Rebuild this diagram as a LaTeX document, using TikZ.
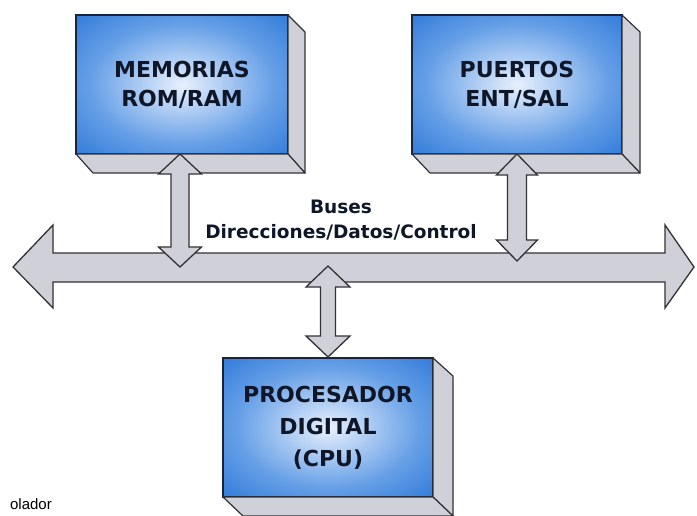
\documentclass[tikz,border=0pt]{standalone}
\usepackage{fontspec}
\setmainfont{DejaVu Sans}
\newfontfamily\capfont{Liberation Sans}
\usetikzlibrary{calc}
\definecolor{shA}{RGB}{232,240,252}
\definecolor{shB}{RGB}{190,214,246}
\definecolor{shC}{RGB}{100,158,230}
\definecolor{shD}{RGB}{42,118,216}
\definecolor{shE}{RGB}{22,88,196}
\definecolor{sidegray}{RGB}{208,209,216}
\definecolor{edgedark}{RGB}{50,50,54}
\definecolor{frontedge}{RGB}{22,36,64}
\definecolor{labelnavy}{RGB}{14,22,40}
\pgfdeclareradialshading{boxshade}{\pgfpoint{0bp}{0bp}}{color(0bp)=(shA); color(7bp)=(shB); color(22bp)=(shC); color(38bp)=(shD); color(72bp)=(shE)}
\tikzset{
  frontface/.style={draw=frontedge, line width=1.2pt, shading=boxshade, inner sep=0pt, outer sep=0pt,
    minimum width=212pt, minimum height=139pt, align=center, text=labelnavy},
  sideface/.style={fill=sidegray, draw=edgedark, line width=1.2pt, line join=round},
  blockarrow/.style={fill=sidegray, draw=edgedark, line width=1.3pt, line join=miter},
  boxfont/.style={font=\fontsize{22}{29}\selectfont\bfseries},
  cpufont/.style={font=\fontsize{22}{32}\selectfont\bfseries},
}
\newcommand\DoubleV[6]{% x, ytop, ybot, shaft half, head half, head length
  \draw[blockarrow] (#1,#2) -- (#1+#5,#2+#6) -- (#1+#4,#2+#6) -- (#1+#4,#3-#6) -- (#1+#5,#3-#6) -- (#1,#3)
    -- (#1-#5,#3-#6) -- (#1-#4,#3-#6) -- (#1-#4,#2+#6) -- (#1-#5,#2+#6) -- cycle;}
\begin{document}
\begin{tikzpicture}[x=1pt,y=-1pt]
\useasboundingbox (0,0) rectangle (697,516);
% boxes
\node[frontface, boxfont] (mem) at (182,84.5) {MEMORIAS\\ROM/RAM};
\draw[sideface] (mem.north east) -- ++(17,17) -- ($(mem.south east)+(17,19)$) -- (mem.south east) -- cycle;
\draw[sideface] (mem.south west) -- (mem.south east) -- ++(17,19) -- ($(mem.south west)+(17,19)$) -- cycle;
\node[frontface, boxfont, minimum width=210pt] (io) at (517,84.5) {PUERTOS\\ENT/SAL};
\draw[sideface] (io.north east) -- ++(18,17) -- ($(io.south east)+(18,19)$) -- (io.south east) -- cycle;
\draw[sideface] (io.south west) -- (io.south east) -- ++(18,19) -- ($(io.south west)+(18,19)$) -- cycle;
\node[frontface, cpufont, minimum width=210pt] (cpu) at (328,427.5) {PROCESADOR\\DIGITAL\\(CPU)};
\draw[sideface] (cpu.north east) -- ++(20,18) -- ($(cpu.south east)+(20,19)$) -- (cpu.south east) -- cycle;
\draw[sideface] (cpu.south west) -- (cpu.south east) -- ++(20,19) -- ($(cpu.south west)+(20,19)$) -- cycle;
% bus
\coordinate (busL) at (13,267);
\coordinate (busR) at (694,267);
\draw[blockarrow] (busL) -- (53,225) -- (53,253) -- (665,253) -- (665,225) -- (busR) -- (665,308) -- (665,282)
  -- (53,282) -- (53,308) -- cycle;
% vertical double arrows
\DoubleV{180}{154}{267}{9}{21.5}{20}
\DoubleV{517}{154}{261}{9.5}{20.5}{21}
\DoubleV{328}{266}{357}{7.5}{22}{21}
% bus label
\node[align=center, text=labelnavy, font=\fontsize{18.5}{25}\selectfont\bfseries] (buslbl) at (341,220.5)
  {Buses\\Direcciones/Datos/Control};
% caption fragment
\node[anchor=base east, inner sep=0pt, font=\capfont\fontsize{15}{18}\selectfont] (cap) at (52,509) {olador};
\end{tikzpicture}
\end{document}
